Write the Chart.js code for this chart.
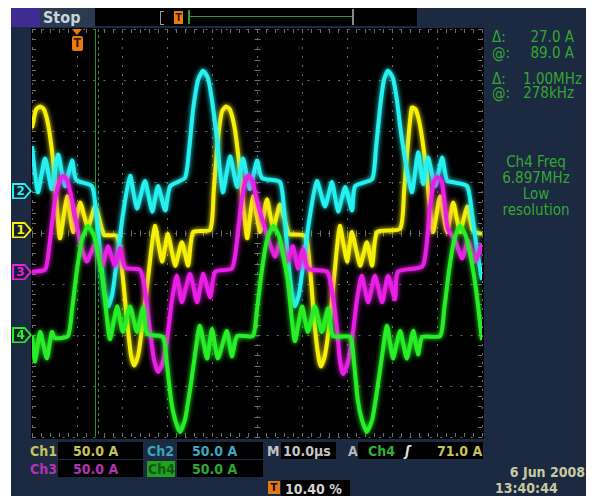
<!DOCTYPE html>
<html>
<head>
<meta charset="utf-8">
<script src="https://cdn.jsdelivr.net/npm/chart.js@4.4.1/dist/chart.umd.min.js"></script>
<style>
body { margin: 0; background: #fff; }
#scope { position: relative; width: 594px; height: 496px; overflow: hidden;
  font-family: "DejaVu Sans Condensed", "DejaVu Sans", sans-serif; font-stretch: condensed; }
.box { position: absolute; }
.t { position: absolute; white-space: nowrap; line-height: 1; }
.rp { color: #34a634; font-size: 15px; }
.bt { font-size: 14px; font-weight: bold; }
#chart { position: absolute; left: 0; top: 0; }
.tag { position: absolute; width: 20px; height: 16px; clip-path: polygon(0 0, 65% 0, 100% 50%, 65% 100%, 0 100%); }
.tag div { position: absolute; left: 1.5px; top: 1.5px; right: 2.5px; bottom: 1.5px; background: #14202f;
  clip-path: polygon(0 0, 65% 0, 100% 50%, 65% 100%, 0 100%); font: bold 12px "DejaVu Sans", sans-serif;
  text-align: left; padding-left: 3px; line-height: 13px; box-sizing: border-box; }
</style>
</head>
<body>
<div id="scope">
  <div class="box" style="left:11px;top:8px;width:575px;height:488px;background:#1b2a40"></div>
  <div class="box" style="left:31px;top:28px;width:453px;height:411px;background:#000"></div>

  <!-- top bar -->
  <div class="box" style="left:11px;top:8px;width:29px;height:19px;background:#3f2c92"></div>
  <div class="box" style="left:40px;top:8px;width:55px;height:19px;background:#2a3b51"></div>
  <div class="t" style="left:43px;top:10px;font-size:16px;font-weight:bold;color:#c9d3da">Stop</div>
  <div class="box" style="left:95px;top:8px;width:322px;height:18px;background:#000"></div>
  <div class="box" style="left:160px;top:11px;width:3px;height:12px;border:1px solid #9a9a9a;border-right:none"></div>
  <div class="box" style="left:188px;top:10px;width:2px;height:14px;background:#2a9a2a"></div>
  <div class="box" style="left:189px;top:16px;width:163px;height:1px;background:#2a9a2a"></div>
  <div class="box" style="left:352px;top:9px;width:2px;height:16px;background:#8a8a8a"></div>
  <div class="t" style="left:174px;top:11px;width:9px;height:13px;background:#e87a14;color:#3a1a00;font-size:10px;font-weight:bold;text-align:center;line-height:13px">T</div>

  <!-- right panel -->
  <div class="t rp" style="left:492px;top:30px">Δ:</div>
  <div class="t rp" style="right:20px;top:30px">27.0 A</div>
  <div class="t rp" style="left:492px;top:46px">@:</div>
  <div class="t rp" style="right:20px;top:46px">89.0 A</div>
  <div class="t rp" style="left:492px;top:72px">Δ:</div>
  <div class="t rp" style="right:12px;top:72px">1.00MHz</div>
  <div class="t rp" style="left:492px;top:86px">@:</div>
  <div class="t rp" style="right:20px;top:86px">278kHz</div>
  <div class="t rp" style="left:486px;top:154px;width:100px;text-align:center;line-height:16px">Ch4 Freq<br>6.897MHz<br>Low<br>resolution</div>

  <!-- bottom readouts -->
  <div class="t bt" style="left:30px;top:444px;color:#c8c25a">Ch1</div>
  <div class="box" style="left:58px;top:442px;width:85px;height:17px;background:#000"></div>
  <div class="t bt" style="left:73px;top:444px;color:#c8c25a">50.0 A</div>
  <div class="t bt" style="left:147px;top:444px;color:#3aa3bd">Ch2</div>
  <div class="box" style="left:177px;top:442px;width:86px;height:17px;background:#000"></div>
  <div class="t bt" style="left:192px;top:444px;color:#3aa8c2">50.0 A</div>
  <div class="t bt" style="left:267px;top:444px;color:#c4c4c4">M</div>
  <div class="box" style="left:281px;top:442px;width:55px;height:17px;background:#000"></div>
  <div class="t bt" style="left:283px;top:444px;color:#c4c4c4">10.0µs</div>
  <div class="t bt" style="left:348px;top:444px;color:#b8b8b8">A</div>
  <div class="box" style="left:358px;top:442px;width:125px;height:17px;background:#000"></div>
  <div class="t bt" style="left:368px;top:444px;color:#30b030">Ch4</div>
  <div class="t bt" style="left:405px;top:444px;color:#e0e0e0;font-style:italic">ʃ</div>
  <div class="t bt" style="left:437px;top:444px;color:#c8c25a">71.0 A</div>

  <div class="t bt" style="left:30px;top:462px;color:#b433b4">Ch3</div>
  <div class="box" style="left:58px;top:460px;width:85px;height:17px;background:#000"></div>
  <div class="t bt" style="left:73px;top:462px;color:#b433b4">50.0 A</div>
  <div class="box" style="left:147px;top:461px;width:28px;height:16px;background:#22a022"></div>
  <div class="t bt" style="left:148px;top:462px;color:#0f5a0f">Ch4</div>
  <div class="box" style="left:177px;top:460px;width:86px;height:17px;background:#000"></div>
  <div class="t bt" style="left:192px;top:462px;color:#30a830">50.0 A</div>

  <div class="t" style="left:268px;top:481px;width:12px;height:13px;background:#e07818;color:#1a0a00;font-size:11px;font-weight:bold;text-align:center;line-height:13px">T</div>
  <div class="box" style="left:281px;top:480px;width:69px;height:16px;background:#000"></div>
  <div class="t bt" style="left:285px;top:482px;color:#d4d4d4">10.40 %</div>

  <div class="t bt" style="right:9px;top:465px;color:#c9c9a0">6 Jun 2008</div>
  <div class="t bt" style="left:495px;top:481px;color:#c9c9a0">13:40:44</div>

  <canvas id="chart" width="594" height="496"></canvas>
</div>

<script>
// time in µs (10 µs/div), current in A (50 A/div)
var ch1Time = [0,0.9,1.8,2.7,3.8,4.9,6.2,7.8,9.1,10.7,12.4,14.0,15.6,16.0,18.9,20.0,21.1,22.0,22.7,23.6,24.7,26.0,27.3,28.9,30.2,31.8,33.3,34.7,35.8,39.6,40.4,41.3,42.2,43.1,44.0,45.1,46.2,47.8,49.1,50.7,52.2,53.6,55.1,56.7,57.1,60.7,61.8,62.7,63.6,64.2,65.1,66.2,67.3,68.4,70.0,71.1,72.9,74.4,75.6,76.7,81.8,82.7,83.6,84.4,85.3,86.4,87.6,89.1,90.7,92.2,93.6,95.1,96.7,97.8,98.4,100]
var ch1Amps = [103,121,124,121,101,62,-5,36,1,30,5,26,3,-2,-3,-36,-85,-120,-130,-120,-85,-36,7,-28,-1,-32,-9,-32,1,3,42,91,119,124,121,101,62,-5,36,1,33,4,28,4,-1,-3,-36,-85,-120,-131,-120,-85,-36,7,-28,1,-32,-9,-32,1,4,42,91,123,121,101,62,1,36,1,30,1,26,4,1,-1]

var ch2Time = [0,1.3,2.9,4.4,5.8,7.3,8.9,9.8,13.3,14.2,15.1,16.0,16.9,17.8,18.9,20.2,21.8,23.3,25.1,26.7,28.0,29.6,30.7,34.0,34.9,35.8,36.9,38.0,39.1,40.0,41.1,42.4,44.0,45.6,46.9,48.4,50.0,51.1,55.1,56.0,56.9,57.8,58.4,59.3,60.4,61.8,63.3,65.1,66.7,68.0,69.6,71.1,71.8,75.6,76.4,77.3,78.2,79.1,80.2,81.1,82.2,84.4,85.8,86.9,88.0,89.6,91.1,92.2,93.3,96.7,97.8,98.9,100]
var ch2Amps = [85,40,73,43,77,46,71,52,46,23,-17,-56,-72,-61,-26,18,56,24,51,21,46,22,46,54,81,121,150,159,152,130,92,40,75,45,73,43,71,54,50,23,-26,-61,-72,-61,-26,18,51,26,50,21,45,22,46,53,81,121,150,159,152,130,92,40,79,48,74,46,74,51,50,46,18,-17,-46]

var ch3Time = [0,2.9,3.6,4.4,5.3,6.2,6.9,7.8,8.9,10.7,12.2,14.0,15.6,16.9,18.4,19.6,20.7,24.0,25.1,26.2,27.1,28.0,28.9,30.0,31.1,32.2,33.3,35.1,36.7,38.0,39.6,40.7,44.4,45.3,46.2,47.1,48.0,48.9,50.0,51.8,54.0,55.1,56.7,58.0,59.1,60.2,61.3,65.6,66.7,67.8,68.4,69.1,70.0,71.1,72.2,73.3,74.7,76.2,77.8,79.1,80.7,81.3,86.7,87.6,88.4,89.3,90.0,91.1,92.4,94.0,95.6,96.9,98.4,100]
var ch3Amps = [-38,-36,-22,8,37,52,56,52,32,-9,-28,-11,-32,-13,-32,-15,-34,-36,-56,-95,-124,-136,-129,-105,-66,-42,-68,-40,-68,-40,-63,-38,-35,-17,18,46,56,52,32,4,-23,-9,-28,-13,-35,-16,-35,-38,-58,-95,-124,-138,-130,-105,-66,-42,-68,-42,-68,-42,-65,-38,-33,-15,23,50,55,50,4,-7,-25,-7,-28,-11]

var ch4Time = [0,0.7,1.8,3.3,4.4,5.1,8.0,8.9,10.0,11.1,12.4,13.8,14.9,15.8,17.3,18.9,20.2,21.8,23.3,24.7,25.6,29.1,30.0,30.9,31.8,32.9,34.0,35.1,36.2,37.3,38.9,40.0,41.3,43.3,44.4,45.6,49.1,50.0,51.1,52.2,53.6,54.9,56.0,56.9,58.4,60.0,61.3,62.9,64.4,65.8,66.9,70.7,71.6,72.4,73.3,74.4,75.6,76.7,77.8,78.9,80.2,81.8,83.3,84.7,85.8,86.7,90.7,91.6,92.7,93.8,95.1,96.4,97.6,98.7,100]
var ch4Amps = [-101,-126,-97,-123,-97,-103,-101,-75,-36,-7,7,-3,-26,-48,-104,-72,-97,-72,-97,-73,-99,-102,-129,-164,-183,-195,-183,-154,-120,-91,-123,-94,-123,-96,-121,-101,-101,-75,-36,-7,7,-3,-26,-48,-106,-72,-97,-72,-97,-74,-101,-102,-129,-164,-183,-195,-183,-154,-120,-91,-123,-96,-123,-96,-119,-102,-101,-75,-36,-7,7,-3,-26,-56,-105]

var channelNames = ['1', '2', '3', '4']
var channelColors = ['#f6ef0a', '#26f0f0', '#ea1fe6', '#27ee27']
var channelGround = [3, 41, -38, -100]   // ground markers on the left edge, A
var cursorTimes = [14.0, 14.7]
var triggerTime = 10.0

function points(time, amps) {
  var out = []
  for (var i = 0; i < Math.min(time.length, amps.length); i++) {
    out.push({x: time[i], y: amps[i]})
  }
  return out
}

var traces = [points(ch1Time, ch1Amps), points(ch2Time, ch2Amps), points(ch3Time, ch3Amps), points(ch4Time, ch4Amps)]

var glow = {
  id: 'glow',
  beforeDatasetDraw: function(chart, args) {
    chart.ctx.save()
    chart.ctx.shadowColor = args.meta.dataset.options.borderColor
    chart.ctx.shadowBlur = 5
  },
  afterDatasetDraw: function(chart) {
    chart.ctx.restore()
  }
}

var graticule = {
  id: 'graticule',
  beforeDatasetsDraw: function(chart) {
    var ctx = chart.ctx, a = chart.chartArea, x = chart.scales.x, y = chart.scales.y
    var cx = Math.round(x.getPixelForValue(50)) + 0.5
    var cy = Math.round(y.getPixelForValue(0)) + 0.5
    ctx.save()
    ctx.strokeStyle = '#6e6e6e'
    ctx.lineWidth = 1
    ctx.beginPath()
    for (var t = 0; t <= 100; t += 2) {
      var px = Math.round(x.getPixelForValue(t)) + 0.5
      ctx.moveTo(px, a.top); ctx.lineTo(px, a.top + 4)
      ctx.moveTo(px, a.bottom); ctx.lineTo(px, a.bottom - 4)
      ctx.moveTo(px, cy - 3); ctx.lineTo(px, cy + 3)
    }
    for (var v = -200; v <= 200; v += 10) {
      var py = Math.round(y.getPixelForValue(v)) + 0.5
      ctx.moveTo(a.left, py); ctx.lineTo(a.left + 4, py)
      ctx.moveTo(a.right, py); ctx.lineTo(a.right - 4, py)
      ctx.moveTo(cx - 3, py); ctx.lineTo(cx + 3, py)
    }
    ctx.stroke()
    // cursors
    ctx.strokeStyle = '#2f8f2f'
    ctx.beginPath()
    var c0 = Math.round(x.getPixelForValue(cursorTimes[0])) + 0.5
    ctx.moveTo(c0, a.top); ctx.lineTo(c0, a.bottom)
    ctx.stroke()
    ctx.setLineDash([3, 3])
    ctx.beginPath()
    var c1 = Math.round(x.getPixelForValue(cursorTimes[1])) + 0.5
    ctx.moveTo(c1, a.top); ctx.lineTo(c1, a.bottom)
    ctx.stroke()
    ctx.restore()
  }
}

var chart = new Chart(document.getElementById('chart'), {
  type: 'line',
  data: {
    datasets: traces.map(function(d, i) {
      return {
        label: 'Ch' + channelNames[i],
        data: d,
        borderColor: channelColors[i],
        borderWidth: 4,
        pointRadius: 0,
        tension: 0.2,
        fill: false,
        order: 4 - i
      }
    })
  },
  options: {
    responsive: false,
    animation: false,
    devicePixelRatio: 1,
    layout: {padding: {left: 32, top: 29, right: 112, bottom: 59}},
    plugins: {legend: {display: false}, tooltip: {enabled: false}},
    scales: {
      x: {
        type: 'linear', min: 0, max: 100,
        ticks: {display: false, stepSize: 10},
        grid: {color: '#6a6a6a', drawTicks: false, lineWidth: 1},
        border: {display: false, dash: [2, 7]}
      },
      y: {
        min: -200, max: 200,
        ticks: {display: false, stepSize: 50},
        grid: {color: '#6a6a6a', drawTicks: false, lineWidth: 1},
        border: {display: false, dash: [2, 8.2]}
      }
    }
  },
  plugins: [graticule, glow]
})

// channel ground markers and trigger marker
var scope = document.getElementById('scope')
for (var i = 0; i < channelNames.length; i++) {
  var tag = document.createElement('div')
  tag.className = 'tag'
  tag.style.left = '12px'
  tag.style.top = (Math.round(chart.scales.y.getPixelForValue(channelGround[i])) - 8) + 'px'
  tag.style.background = channelColors[i]
  var inner = document.createElement('div')
  inner.style.color = channelColors[i]
  inner.textContent = channelNames[i]
  tag.appendChild(inner)
  scope.appendChild(tag)
}
var tx = Math.round(chart.scales.x.getPixelForValue(triggerTime))
var arrow = document.createElement('div')
arrow.className = 'box'
arrow.style.cssText = 'left:' + (tx - 5) + 'px;top:29px;width:0;height:0;border-left:5px solid transparent;border-right:5px solid transparent;border-top:6px solid #e87a14'
scope.appendChild(arrow)
var trig = document.createElement('div')
trig.className = 't'
trig.style.cssText = 'left:' + (tx - 5) + 'px;top:36px;width:11px;height:15px;background:#e87a14;color:#3a1a00;font-size:12px;font-weight:bold;text-align:center;line-height:15px;border-radius:2px'
trig.textContent = 'T'
scope.appendChild(trig)
</script>
</body>
</html>
